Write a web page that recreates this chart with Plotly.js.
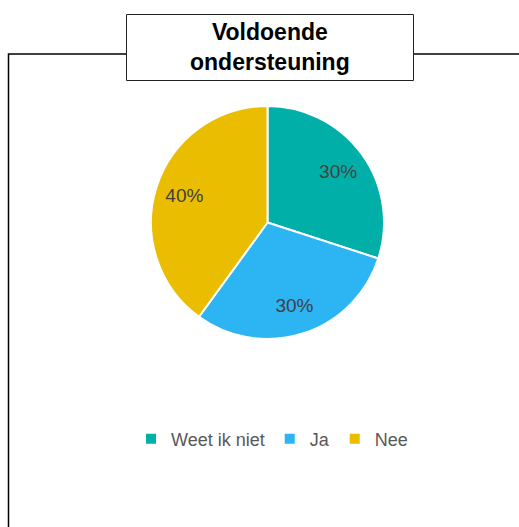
<!DOCTYPE html>
<html><head><meta charset="utf-8">
<script src="https://cdn.plot.ly/plotly-3.0.1.min.js"></script>
<style>html,body{margin:0;padding:0;background:#fff}#chart{width:519px;height:527px}</style>
</head><body><div id="chart"></div>
<script>
const categories = ["Weet ik niet", "Ja", "Nee"];
const values = [30, 30, 40];
const colors = ["#00B0A8", "#2DB4F2", "#EABD00"];
const titleText = "Voldoende<br>ondersteuning";

const W = 519, H = 527;
const px = x => x / W;
const py = y => 1 - y / H;
const dom = {x: [px(151), px(384)], y: [py(339), py(106)]};

const pieBase = {
  type: "pie", labels: categories, values: values, sort: false,
  direction: "clockwise", rotation: 0, domain: dom,
  marker: {colors: colors, line: {color: "#fff", width: 2}},
  textinfo: "none", hoverinfo: "none", showlegend: true
};
const pieText = {
  type: "pie", labels: categories, values: values, sort: false,
  direction: "clockwise", rotation: 0, domain: dom, hole: 0.5,
  marker: {colors: ["rgba(0,0,0,0)","rgba(0,0,0,0)","rgba(0,0,0,0)"], line: {width: 0}},
  textinfo: "percent", textposition: "inside", insidetextorientation: "horizontal",
  textfont: {family: "Liberation Sans, Arial, sans-serif", size: 19, color: "#404040"},
  hoverinfo: "none", showlegend: false
};

const layout = {
  width: W, height: H, margin: {l: 0, r: 0, t: 0, b: 0},
  paper_bgcolor: "#fff", plot_bgcolor: "#fff",
  font: {family: "Liberation Sans, Arial, sans-serif", color: "#595959"},
  showlegend: true,
  legend: {orientation: "h", x: px(272), xanchor: "center", y: py(439), yanchor: "middle",
           font: {size: 18, color: "#595959"}, itemwidth: 30, traceorder: "normal"},
  shapes: [
    {type: "path", xref: "paper", yref: "paper",
     path: `M ${px(8.5)} ${py(540)} L ${px(8.5)} ${py(54)} L ${px(540)} ${py(54)}`,
     line: {color: "#000", width: 1.5}},
    {type: "rect", xref: "paper", yref: "paper",
     x0: px(126.5), x1: px(413.5), y0: py(80.5), y1: py(14.5),
     fillcolor: "#fff", line: {color: "#222", width: 1}}
  ],
  annotations: [
    {text: "<b>" + titleText + "</b>", xref: "paper", yref: "paper",
     x: px(270), y: py(47.5), xanchor: "center", yanchor: "middle", showarrow: false,
     font: {family: "Liberation Sans, Arial, sans-serif", size: 23, color: "#000"}}
  ]
};

Plotly.newPlot("chart", [pieBase, pieText], layout, {staticPlot: true});
</script></body></html>
